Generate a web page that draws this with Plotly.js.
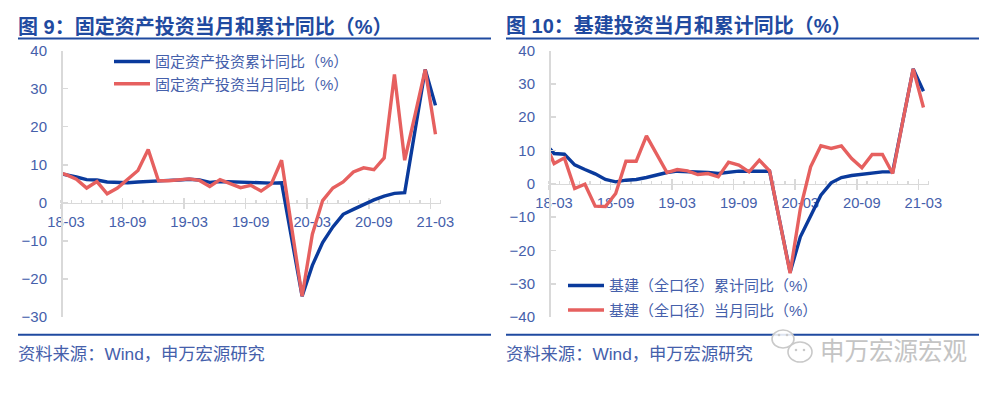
<!DOCTYPE html>
<html><head><meta charset="utf-8">
<script src="https://cdn.plot.ly/plotly-3.0.1.min.js"></script>
<style>html,body{margin:0;padding:0;background:#fff;overflow:hidden}#c{width:1000px;height:393px}</style>
</head><body><div id="c"></div>
<script>
const months = ['18-02','18-03','18-04','18-05','18-06','18-07','18-08','18-09','18-10','18-11','18-12',
 '19-01','19-02','19-03','19-04','19-05','19-06','19-07','19-08','19-09','19-10','19-11','19-12',
 '20-01','20-02','20-03','20-04','20-05','20-06','20-07','20-08','20-09','20-10','20-11','20-12',
 '21-01','21-02','21-03'];
const tickLabels = ['18-03','18-09','19-03','19-09','20-03','20-09','21-03'];
const fixedCum = [7.9,7.4,6.8,6.1,6.0,5.5,5.3,5.3,5.5,5.7,5.9,5.9,6.0,6.2,6.0,5.4,5.6,5.5,5.4,5.4,5.2,5.2,5.3,-9.6,-24.5,-16.4,-10.4,-6.3,-3.0,-1.7,-0.4,0.8,1.8,2.5,2.7,19.5,35,25.6];
const fixedMon = [8.2,7.4,6.2,3.9,5.6,2.4,3.9,6.2,8.5,14.0,5.8,5.8,6.0,6.3,5.9,4.3,6.1,5.1,4.0,4.6,3.1,5.0,11.2,-6.8,-24.5,-8.2,0.6,3.9,5.5,8.1,9.2,8.7,11.8,33.7,11.2,23,35,18];
const infraCum = [12.5,9.1,8.9,5.7,4.3,3.0,1.3,0.6,1.1,1.3,1.9,2.7,3.4,3.8,3.7,3.5,3.4,3.1,3.5,3.8,3.8,3.9,3.8,-11.4,-26.5,-15.9,-9.4,-3.4,0.3,1.9,2.5,2.8,3.3,3.6,3.6,19,34.5,27.8];
const infraMon = [13,6.1,7.8,-1.4,-0.1,-6.7,-6.8,-2.9,6.8,6.8,14.4,8.9,3.4,4.3,3.9,2.8,3.1,2.1,6.5,5.6,3.6,7.1,3.9,-11.4,-26.8,-7.4,5.1,11.4,10.6,11.4,7.6,4.8,8.8,8.8,3.1,19,34.5,22.9];

const names = {
  fixedCum:'固定资产投资累计同比（%）', fixedMon:'固定资产投资当月同比（%）',
  infraCum:'基建（全口径）累计同比（%）', infraMon:'基建（全口径）当月同比（%）'
};
const titleA='图 9：固定资产投资当月和累计同比（%）', titleB='图 10：基建投资当月和累计同比（%）';
const sourceText='资料来源：Wind，申万宏源研究', watermark='申万宏源宏观';

const W=1000,H=393;
const BLUE='#0a3a9c',RED='#e6605f',AX='#d9d9d9',TXT='#4560ab',HEAD='#1f4aa0';
const FONT='"Liberation Sans","Noto Sans CJK SC",sans-serif';
const xIdx=months.map((m,i)=>i-1);
const bounds=tickLabels.map(t=>months.indexOf(t)-1-0.5);
const xRange=[-0.5,36.5];
const yDom=[(H-317.2)/H,(H-50.5)/H];

function line(y,name,xa,ya,color,leg){
  return {x:xIdx,y:y,name:name,xaxis:xa,yaxis:ya,mode:'lines',legend:leg,
    line:{color:color,width:3.4},hoverinfo:'skip'};
}
function blank(xa,ya){return {x:[0],y:[null],xaxis:xa,yaxis:ya,mode:'lines',showlegend:false,hoverinfo:'skip'};}
const traces=[
  line(fixedCum,names.fixedCum,'x','y',BLUE,'legend'),
  line(fixedMon,names.fixedMon,'x','y',RED,'legend2'),
  line(infraCum,names.infraCum,'x2','y2',BLUE,'legend3'),
  line(infraMon,names.infraMon,'x2','y2',RED,'legend4'),
  blank('x3','y'),blank('x4','y2')
];
function xax(left,yr){
  const pos=yDom[0]+(0-yr[0])/(yr[1]-yr[0])*(yDom[1]-yDom[0]);
  return {
    base:{domain:[left/W,(left+379.6)/W],range:xRange,autorange:false,anchor:'free',position:pos,
      showgrid:false,zeroline:false,showline:true,linecolor:AX,linewidth:1.5,
      tickmode:'array',tickvals:bounds,ticktext:tickLabels,ticks:'outside',ticklen:5,tickcolor:AX,tickwidth:1.5,
      ticklabelshift:5,layer:'below traces',tickfont:{family:FONT,size:14.7,color:TXT},
      minor:{ticks:'inside',ticklen:3,tickcolor:AX,tickwidth:1.2,tickmode:'linear',tick0:-0.5,dtick:1,showgrid:false}},
    over:(o)=>({domain:[left/W,(left+379.6)/W],range:xRange,autorange:false,anchor:'free',position:pos,overlaying:o,
      showgrid:false,zeroline:false,showline:false,tickmode:'array',tickvals:bounds,ticktext:tickLabels.map(()=>''),
      showticklabels:false,ticks:'inside',ticklen:5,tickcolor:AX,tickwidth:1.5,layer:'below traces'})
  };
}
function yax(left,yr){
  return {domain:yDom,range:yr,autorange:false,anchor:'free',position:left/W,dtick:10,tick0:0,
    showgrid:false,zeroline:false,showline:true,linecolor:AX,linewidth:1.5,
    ticks:'inside',ticklen:5,tickcolor:AX,tickwidth:1.5,ticklabelstandoff:11,
    tickfont:{family:FONT,size:15,color:TXT}};
}
function leg(x,y){
  return {x:x/W,y:1-y/H,xanchor:'left',yanchor:'middle',bgcolor:'rgba(0,0,0,0)',itemwidth:36,
    font:{family:FONT,size:15,color:TXT},traceorder:'normal',itemclick:false,itemdoubleclick:false};
}
function text(t,x,y,size,color,bold,fam){
  return {text:bold?'<b>'+t+'</b>':t,x:x/W,y:1-y/H,xref:'paper',yref:'paper',xanchor:'left',yanchor:'middle',
    showarrow:false,font:{family:fam||FONT,size:size,color:color}};
}
function hline(x0,x1,y){
  return {type:'line',xref:'paper',yref:'paper',x0:x0/W,x1:x1/W,y0:1-y/H,y1:1-y/H,line:{color:HEAD,width:2}};
}
function bubble(cx,cy,rx,ry){
  return {type:'circle',xref:'paper',yref:'paper',x0:(cx-rx)/W,x1:(cx+rx)/W,y0:1-(cy+ry)/H,y1:1-(cy-ry)/H,
    fillcolor:'rgba(255,255,255,0.85)',line:{color:'#c9c9c9',width:1.6}};
}
function dot(cx,cy){
  return {type:'circle',xref:'paper',yref:'paper',x0:(cx-1.3)/W,x1:(cx+1.3)/W,y0:1-(cy+1.3)/H,y1:1-(cy-1.3)/H,
    fillcolor:'#c9c9c9',line:{width:0}};
}
const xA=xax(61,[-30,40]),xB=xax(549,[-40,40]);
const layout={
  width:W,height:H,margin:{l:0,r:0,t:0,b:0},paper_bgcolor:'#fff',plot_bgcolor:'rgba(0,0,0,0)',
  showlegend:true,
  xaxis:xA.base,yaxis:yax(61,[-30,40]),
  xaxis2:xB.base,yaxis2:yax(549,[-40,40]),
  xaxis3:xA.over('x'),xaxis4:xB.over('x2'),
  legend:leg(109,61.7),legend2:leg(109,84),legend3:leg(563,285.7),legend4:leg(563,310.3),
  shapes:[hline(18,491,38.5),hline(506,979,38.5),hline(18,491,334.7),hline(506,979,334.7),
    bubble(783,339,11,9),bubble(800,352,12,10),dot(779,335),dot(787,335),dot(796,350),dot(804,350)],
  annotations:[
    text(titleA,16,26,20,HEAD,true),text(titleB,504,26,20,HEAD,true),
    text(sourceText,16,354,17.3,TXT,false),text(sourceText,504,354,17.3,TXT,false),
    text(watermark,818,349,24.5,'#c4c4c4',false,'"Noto Sans CJK SC",sans-serif')
  ]
};
Plotly.newPlot('c',traces,layout,{displayModeBar:false,staticPlot:true});
</script></body></html>
